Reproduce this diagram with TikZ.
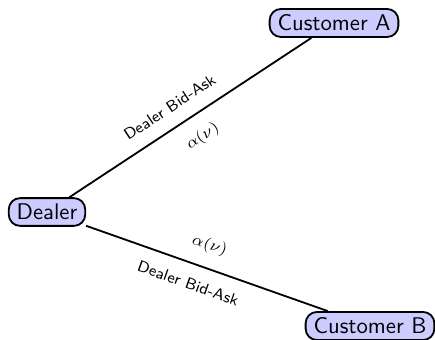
\documentclass[tikz,border=0pt]{standalone}
\usepackage{amsmath}
\usepackage{xcolor}
\usetikzlibrary{calc}

\begin{document}
\begin{tikzpicture}[x=0.0155cm,y=-0.0155cm,font=\sffamily,
		party/.style={draw,thick,rounded corners=5pt,fill=blue!20,inner xsep=3.5pt,inner ysep=2.6pt},
		quote/.style={font=\sffamily\scriptsize,sloped,inner sep=6pt}]
			\useasboundingbox (0,0) rectangle (435,340);
			\node[party] (D) at (47,212) {Dealer};
			\node[party] (A) at (334,23) {Customer A};
			\node[party] (B) at (370,326) {Customer B};
			\draw[thick] (D) -- (A)
				node[quote,above,pos=0.46] {Dealer Bid-Ask}
				node[quote,below,pos=0.5] {$\alpha(\nu)$};
			\draw[thick] (D) -- (B)
				node[quote,above,pos=0.48] {$\alpha(\nu)$}
				node[quote,below,pos=0.45] {Dealer Bid-Ask};
		\end{tikzpicture}
\end{document}
